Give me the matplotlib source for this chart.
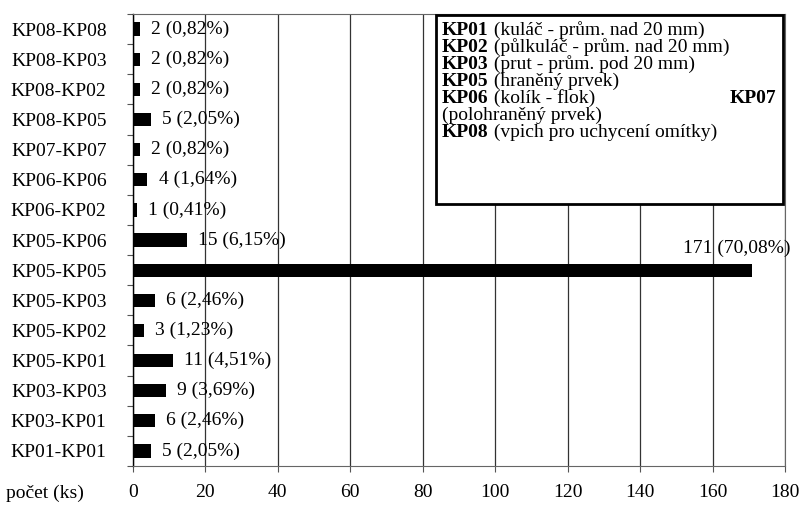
import matplotlib.pyplot as plt
from matplotlib.patches import Rectangle

plt.rcParams['font.family'] = ['Liberation Serif', 'DejaVu Serif']

# categories from top to bottom
pairs = ['KP08-KP08', 'KP08-KP03', 'KP08-KP02', 'KP08-KP05', 'KP07-KP07',
         'KP06-KP06', 'KP06-KP02', 'KP05-KP06', 'KP05-KP05', 'KP05-KP03',
         'KP05-KP02', 'KP05-KP01', 'KP03-KP03', 'KP03-KP01', 'KP01-KP01']
counts = [2, 2, 2, 5, 2, 4, 1, 15, 171, 6, 3, 11, 9, 6, 5]
x_ticks = [0, 20, 40, 60, 80, 100, 120, 140, 160, 180]

legend_codes = ['KP01', 'KP02', 'KP03', 'KP05', 'KP06', '', 'KP08']
legend_descs = [' (kuláč - prům. nad 20 mm)',
                ' (půlkuláč - prům. nad 20 mm)',
                ' (prut - prům. pod 20 mm)',
                ' (hraněný prvek)',
                ' (kolík - flok)',
                '(polohraněný prvek)',
                ' (vpich pro uchycení omítky)']

total = sum(counts)
fs = 14

fig = plt.figure(figsize=(8.02, 5.08), dpi=100)
ax = fig.add_axes([0.1658, 0.0827, 0.8130, 0.8897])

ypos = list(range(len(pairs)))
ax.barh(ypos, counts, height=0.44, color='black', zorder=3)
ax.set_ylim(len(pairs) - 0.5, -0.5)
ax.set_xlim(0, 180)

ax.set_yticks(ypos)
ax.set_yticklabels(pairs, fontsize=fs)
ax.tick_params(axis='y', which='major', length=0, pad=19)
ax.set_yticks([i + 0.5 for i in range(-1, len(pairs))], minor=True)
ax.tick_params(axis='y', which='minor', length=4, direction='out', width=0.8, color='#555555')

ax.set_xticks(x_ticks)
ax.set_xticklabels([str(t) for t in x_ticks], fontsize=fs)
ax.tick_params(axis='x', length=4, width=0.8, color='#555555', pad=9)

ax.grid(axis='x', color='#333333', linewidth=0.9, zorder=0)
for side in ['top', 'right', 'bottom']:
    ax.spines[side].set_linestyle((0, (1, 1)))
    ax.spines[side].set_color('#666666')
ax.spines['left'].set_color('black')
ax.spines['left'].set_linewidth(1.0)

for i, c in enumerate(counts):
    label = f'{c} ({c / total * 100:.2f}%)'.replace('.', ',')
    if c == max(counts):
        ax.text(181.5, i - 0.73, label, fontsize=fs, ha='right', va='center', zorder=4)
    else:
        ax.annotate(label, xy=(c, i), xytext=(8, 0), textcoords='offset points',
                    fontsize=fs, ha='left', va='center', zorder=4)

fig.text(0.007, 0.028, 'počet (ks)', fontsize=fs, ha='left', va='center')

# legend box, drawn in the axes so the texts can sit on top of it
box = Rectangle((436 / 802, 1 - 204 / 508), (783 - 436) / 802, (204 - 15) / 508,
                transform=fig.transFigure, facecolor='white', edgecolor='black',
                linewidth=2, zorder=5, clip_on=False)
ax.add_patch(box)

line_y = 1 - 35 / 508
step = 17 / 508
for code, desc in zip(legend_codes, legend_descs):
    if code:
        t = ax.text(442 / 802, line_y, code, fontsize=fs, fontweight='bold',
                    ha='left', va='baseline', transform=fig.transFigure, zorder=6)
        ax.annotate(desc, xy=(1, 0), xycoords=t, fontsize=fs, ha='left',
                    va='bottom', zorder=6, annotation_clip=False)
    else:
        ax.text(442 / 802, line_y, desc, fontsize=fs, ha='left', va='baseline',
                transform=fig.transFigure, zorder=6)
    if code == 'KP06':
        ax.text(776 / 802, line_y, 'KP07', fontsize=fs, fontweight='bold',
                ha='right', va='baseline', transform=fig.transFigure, zorder=6)
    line_y -= step

fig.savefig('out.png', dpi=100)
